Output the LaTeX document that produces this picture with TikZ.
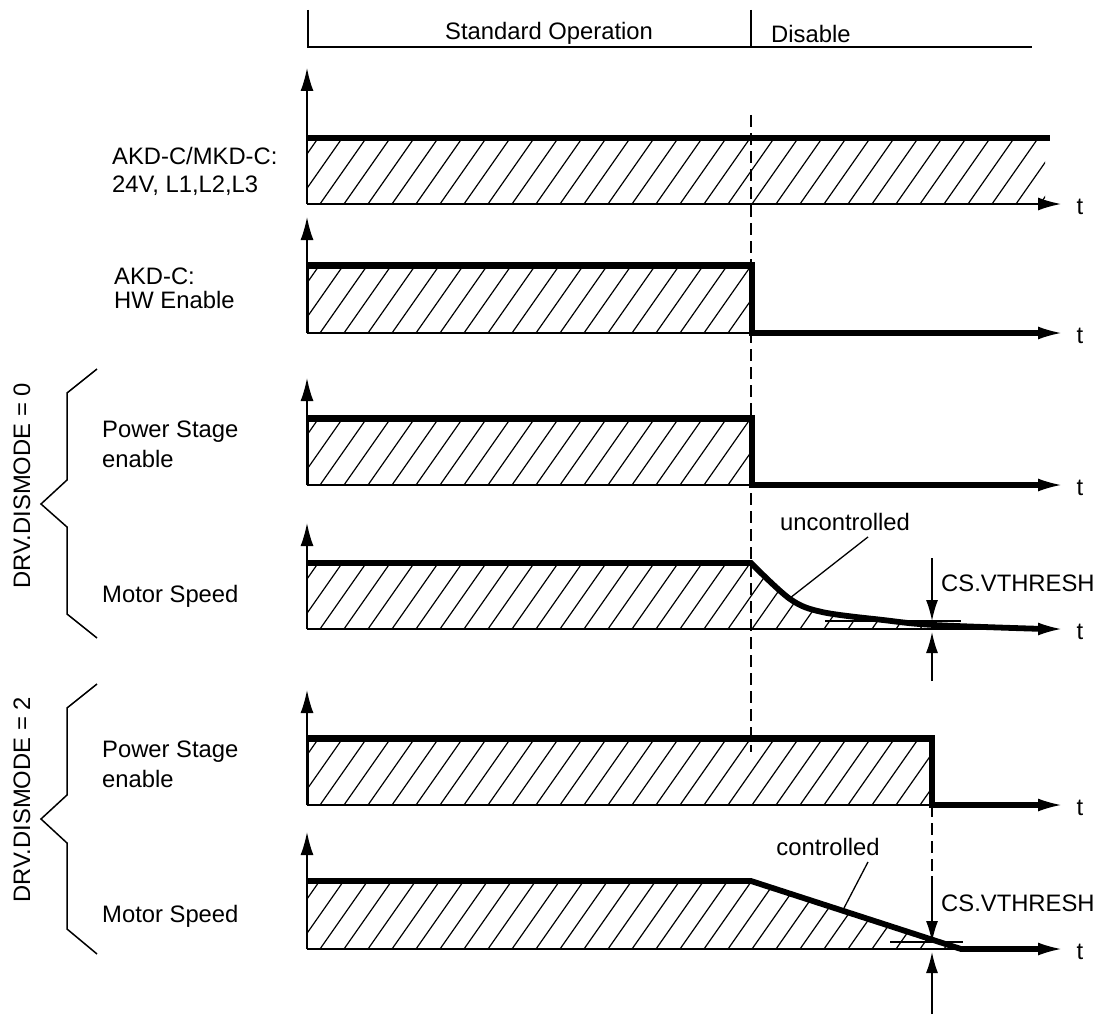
\documentclass[tikz,border=0pt]{standalone}
\usepackage{fontspec}
\setmainfont{Liberation Sans}
\usetikzlibrary{arrows.meta}
\newcommand\hatchband[2]{%
  \foreach \hx in {224,248,...,1100}
    \draw[hatch] (\hx,#2) -- ++({0.7*(#2-#1)},{-(#2-#1)});}
\begin{document}
\begin{tikzpicture}[x=1pt,y=-1pt,
    lbl/.style={inner sep=0pt, font=\fontsize{23.8}{28}\selectfont, align=left},
    frame/.style={line width=1.6pt},
    axisline/.style={line width=1.6pt, -{Latex[length=23pt,width=13pt]}},
    signal/.style={line width=5.8pt},
    hatch/.style={line width=1.2pt},
    border/.style={line width=1.3pt},
    marker/.style={line width=1.6pt, dash pattern=on 12pt off 6pt},
    thresh/.style={line width=1.3pt},
    vth/.style={line width=1.6pt, -{Latex[length=21pt,width=12pt]}},
    brace/.style={line width=1.5pt},
    leader/.style={line width=1.3pt}]
  \useasboundingbox (0,0) rectangle (1102,1014);

  \draw[frame] (308,10) -- (308,47) -- (1032,47);
  \draw[frame] (751,10) -- (751,47);
  \node[lbl, anchor=base west] (std) at (445,40) {Standard Operation};
  \node[lbl, anchor=base west] (dis) at (771,43) {Disable};

  \begin{scope}
    \clip (308,140) rectangle (1045,204);
    \hatchband{140}{204}
  \end{scope}
  \begin{scope}
    \clip (308,268) rectangle (751,333);
    \hatchband{268}{333}
  \end{scope}
  \draw[border] (308,268) rectangle (751,333);
  \begin{scope}
    \clip (308,421) rectangle (751,485);
    \hatchband{421}{485}
  \end{scope}
  \draw[border] (308,421) rectangle (751,485);
  \begin{scope}
    \clip (308,563) -- plot[smooth, tension=0.55] coordinates {(751,563) (790,599) (822,612) (883,620) (934,625) (1050,629)} -- (308,629) -- cycle;
    \hatchband{563}{629}
  \end{scope}
  \begin{scope}
    \clip (308,741) rectangle (932,805);
    \hatchband{741}{805}
  \end{scope}
  \draw[border] (308,741) rectangle (932,805);
  \begin{scope}
    \clip (308,881) -- (751,881) -- (961,949) -- (308,949) -- cycle;
    \hatchband{881}{949}
  \end{scope}

  \draw[marker] (751,115) -- (751,752);
  \draw[marker] (932,805) -- (932,878);

  \foreach \ya/\yb/\nm in {204/68/a, 333/217/b, 485/378/c, 629/523/d, 805/690/e, 949/832/f} {
    \draw[axisline] (307,\ya) -- (307,\yb);
    \draw[axisline] (307,\ya) -- (1061,\ya);
    \node[lbl] (t\nm) at (1080,\ya+3) {t};
  }

  \draw[signal] (308,138) -- (1050,138);
  \draw[signal] (308,265) -- (752,265) -- (752,333) -- (1045,333);
  \draw[signal] (308,418) -- (752,418) -- (752,485) -- (1045,485);
  \draw[signal] (308,563) -- plot[smooth, tension=0.55] coordinates {(751,563) (790,599) (822,612) (883,620) (934,625) (1045,629)};
  \draw[signal] (308,738) -- (932,738) -- (932,805) -- (1045,805);
  \draw[signal] (308,881) -- (751,881) -- (961,949) -- (1045,949);

  \draw[thresh] (825,621) -- (961,621);
  \draw[vth] (932,558) -- (932,621);
  \draw[vth] (932,681) -- (932,632);
  \node[lbl, anchor=west] (vtA) at (941,583) {CS.VTHRESH};
  \draw[thresh] (890,942) -- (963,942);
  \draw[vth] (932,876) -- (932,942);
  \draw[vth] (932,1014) -- (932,952);
  \node[lbl, anchor=west] (vtB) at (941,903) {CS.VTHRESH};

  \node[lbl] (unc) at (845,522) {uncontrolled};
  \coordinate (uncTip) at (790,598);
  \draw[leader] ([xshift=23pt,yshift=-6pt]unc.south) -- (uncTip);
  \node[lbl] (ctl) at (828,847) {controlled};
  \coordinate (ctlTip) at (844,908);
  \draw[leader] ([xshift=40pt,yshift=-6pt]ctl.south) -- (ctlTip);

  \node[lbl, anchor=north west] (sup) at (112,147) {AKD-C/MKD-C:\\24V, L1,L2,L3};
  \node[lbl, anchor=north west] (hwen) at (114,268) {AKD-C:\\[-4pt]HW Enable};
  \node[lbl, anchor=north west] (psA) at (102,421) {Power Stage\\[2pt]enable};
  \node[lbl, anchor=base west] (msA) at (102,602) {Motor Speed};
  \node[lbl, anchor=north west] (psB) at (102,741) {Power Stage\\[2pt]enable};
  \node[lbl, anchor=base west] (msB) at (102,922) {Motor Speed};

  \draw[brace] (97,369) -- (67,393) -- (67,480) -- (41,504) -- (67,527) -- (67,614) -- (97,638);
  \draw[brace] (97,684) -- (67,708) -- (67,795) -- (41,819) -- (67,843) -- (67,929) -- (97,954);
  \node[lbl, rotate=90] (dmA) at (22,486) {DRV.DISMODE = 0};
  \node[lbl, rotate=90] (dmB) at (22,800) {DRV.DISMODE = 2};
\end{tikzpicture}
\end{document}
